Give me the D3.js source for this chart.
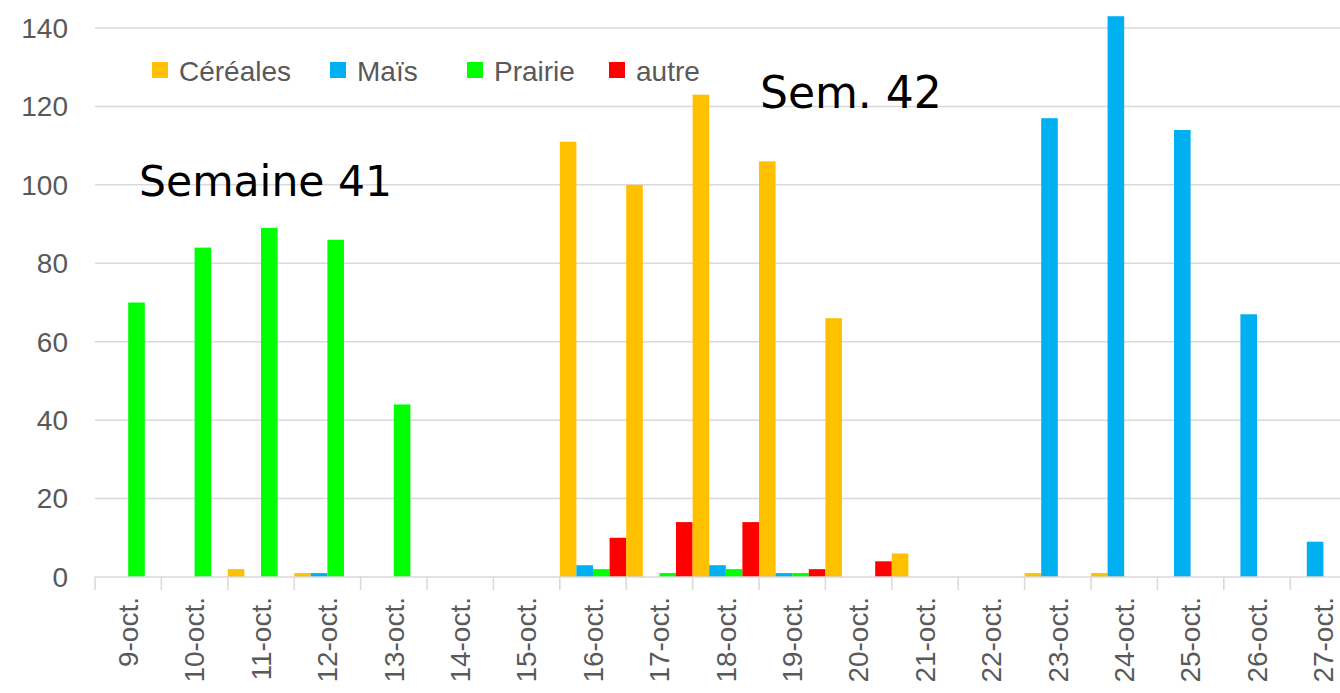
<!DOCTYPE html>
<html>
<head>
<meta charset="utf-8">
<script src="https://cdn.jsdelivr.net/npm/d3@7"></script>
<style>
  body { margin: 0; background: #fff; }
  svg { display: block; }
  .tick-label { font-family: "Liberation Sans", Arial, sans-serif; fill: #595959; }
  .note { font-family: "DejaVu Sans", Verdana, sans-serif; fill: #000; }
</style>
</head>
<body>
<div id="chart"></div>
<script>
// categories (days) and series
var days = ["9-oct.", "10-oct.", "11-oct.", "12-oct.", "13-oct.", "14-oct.", "15-oct.",
  "16-oct.", "17-oct.", "18-oct.", "19-oct.", "20-oct.", "21-oct.", "22-oct.",
  "23-oct.", "24-oct.", "25-oct.", "26-oct.", "27-oct."];
var seriesNames = ["Céréales", "Maïs", "Prairie", "autre"];
var seriesColors = ["#FFC000", "#00B0F0", "#00FF00", "#FF0000"];

var cereales = [0, 0, 2, 1, 0, 0, 0, 111, 100, 123, 106, 66, 6, 0, 1, 1, 0, 0, 0];
var mais     = [0, 0, 0, 1, 0, 0, 0, 3, 0, 3, 1, 0, 0, 0, 117, 143, 114, 67, 9];
var prairie  = [70, 84, 89, 86, 44, 0, 0, 2, 1, 2, 1, 0, 0, 0, 0, 0, 0, 0, 0];
var autre    = [0, 0, 0, 0, 0, 0, 0, 10, 14, 14, 2, 4, 0, 0, 0, 0, 0, 0, 0];
var yTicks = [0, 20, 40, 60, 80, 100, 120, 140];

var values = [cereales, mais, prairie, autre];

var width = 1340, height = 693;
var svg = d3.select("#chart").append("svg")
    .attr("width", width)
    .attr("height", height);

var x = d3.scaleBand()
    .domain(days)
    .range([95, 95 + days.length * 66.4])
    .padding(0);

var xInner = d3.scaleBand()
    .domain(seriesNames)
    .range([0, x.bandwidth()])
    .padding(0);

var y = d3.scaleLinear()
    .domain([0, 140])
    .range([577, 28]);

// horizontal gridlines
svg.append("g")
  .selectAll("line")
  .data(yTicks.filter(function(d) { return d > 0; }))
  .enter().append("line")
    .attr("x1", 95)
    .attr("x2", width)
    .attr("y1", function(d) { return y(d); })
    .attr("y2", function(d) { return y(d); })
    .attr("stroke", "#d9d9d9")
    .attr("stroke-width", 1.5);

// y labels
svg.append("g")
  .selectAll("text")
  .data(yTicks)
  .enter().append("text")
    .attr("class", "tick-label")
    .attr("x", 68)
    .attr("y", function(d) { return y(d); })
    .attr("dy", "0.35em")
    .attr("text-anchor", "end")
    .style("font-size", "28px")
    .text(function(d) { return d; });

// bars
var groups = svg.append("g")
  .selectAll("g")
  .data(days)
  .enter().append("g")
    .attr("transform", function(d) { return "translate(" + x(d) + ",0)"; });

groups.selectAll("rect")
  .data(function(d, i) {
    return seriesNames.map(function(s, k) { return { key: s, k: k, value: values[k][i] }; });
  })
  .enter().append("rect")
    .filter(function(d) { return d.value > 0; })
    .attr("x", function(d) { return xInner(d.key); })
    .attr("width", xInner.bandwidth())
    .attr("y", function(d) { return y(d.value); })
    .attr("height", function(d) { return y(0) - y(d.value); })
    .attr("fill", function(d) { return seriesColors[d.k]; });

// x axis line and ticks between categories
svg.append("line")
    .attr("x1", 95).attr("x2", width)
    .attr("y1", y(0)).attr("y2", y(0))
    .attr("stroke", "#d9d9d9")
    .attr("stroke-width", 1.5);

svg.append("g")
  .selectAll("line")
  .data(days)
  .enter().append("line")
    .attr("x1", function(d) { return x(d); })
    .attr("x2", function(d) { return x(d); })
    .attr("y1", y(0))
    .attr("y2", y(0) + 13)
    .attr("stroke", "#d9d9d9")
    .attr("stroke-width", 1.5);

// x labels, rotated
svg.append("g")
  .selectAll("text")
  .data(days)
  .enter().append("text")
    .attr("class", "tick-label")
    .attr("transform", function(d) {
      return "translate(" + (x(d) + x.bandwidth() / 2) + ",597) rotate(-90)";
    })
    .attr("dy", "0.35em")
    .attr("text-anchor", "end")
    .style("font-size", "28px")
    .text(function(d) { return d; });

// legend
var legendX = [152, 330, 467, 609];
var legend = svg.append("g")
  .selectAll("g")
  .data(seriesNames)
  .enter().append("g")
    .attr("transform", function(d, i) { return "translate(" + legendX[i] + ",62)"; });

legend.append("rect")
    .attr("width", 16)
    .attr("height", 16)
    .attr("fill", function(d, i) { return seriesColors[i]; });

legend.append("text")
    .attr("class", "tick-label")
    .attr("x", 27)
    .attr("y", 9)
    .attr("dy", "0.35em")
    .style("font-size", "28px")
    .text(function(d) { return d; });

// week notes
svg.append("text")
    .attr("class", "note")
    .attr("x", 139)
    .attr("y", 196)
    .style("font-size", "42.5px")
    .text("Semaine 41");

svg.append("text")
    .attr("class", "note")
    .attr("x", 760)
    .attr("y", 108)
    .style("font-size", "44px")
    .text("Sem. 42");
</script>
</body>
</html>
